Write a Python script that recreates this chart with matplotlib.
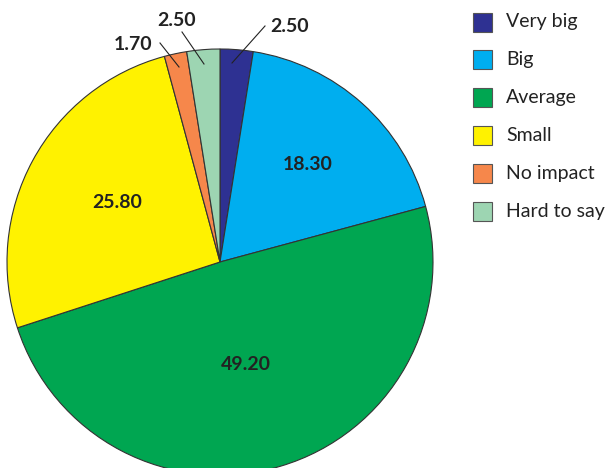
import matplotlib.pyplot as plt
from matplotlib.patches import Rectangle

labels = ["Very big", "Big", "Average", "Small", "No impact", "Hard to say"]
values = [2.50, 18.30, 49.20, 25.80, 1.70, 2.50]
colors = ["#2E3192", "#00AEEF", "#00A651", "#FFF200", "#F6874B", "#9DD5B2"]

H = 468
fig = plt.figure(figsize=(6.12, 4.68), dpi=100)
ax = fig.add_axes([0, 0, 1, 1])

# pie centre in pixel coords (y measured from the bottom)
cx, cy, r = 220, H - 262, 213
wedges, _ = ax.pie(values, colors=colors, startangle=90, counterclock=False,
                   center=(cx, cy), radius=r, frame=True,
                   wedgeprops=dict(edgecolor="#333333", linewidth=0.8))
ax.set_xlim(0, 612)
ax.set_ylim(0, H)
ax.axis("off")

font = "Lato"
lab = [f"{v:.2f}" for v in values]
bold = dict(ha="center", va="center", fontsize=14, fontweight="bold", family=font, color="#222222")

# labels inside the big wedges
ax.text(308, H - 165, lab[1], **bold)
ax.text(246, H - 365, lab[2], **bold)
ax.text(117, H - 202, lab[3], **bold)

# outside labels with leader lines
ax.plot([232, 265], [H - 63, H - 26], color="#222222", lw=0.8)
ax.text(290, H - 27, lab[0], **bold)
ax.plot([204, 182], [H - 64, H - 32], color="#222222", lw=0.8)
ax.text(177, H - 20, lab[5], **bold)
ax.plot([179, 160], [H - 67, H - 43], color="#222222", lw=0.8)
ax.text(133, H - 44, lab[4], **bold)

# legend drawn by hand
for i, (name, col) in enumerate(zip(labels, colors)):
    y = 22 + i * 37.8
    ax.add_patch(Rectangle((473, H - y - 9.5), 19, 19, facecolor=col,
                           edgecolor="#555555", linewidth=0.8))
    ax.text(506, H - y, name, ha="left", va="center", fontsize=14,
            family=font, color="#222222")

fig.savefig("out.png", dpi=100)
